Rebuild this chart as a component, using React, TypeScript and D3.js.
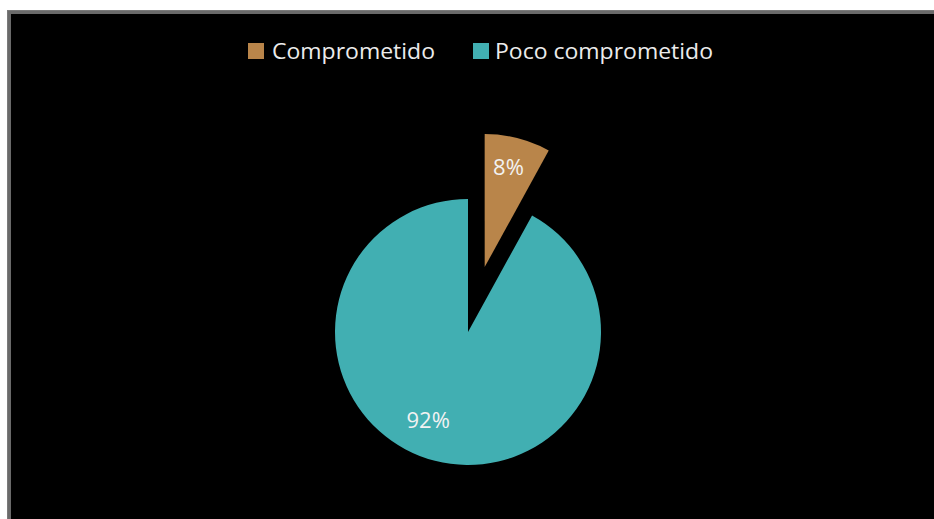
import React from "react";
import * as d3 from "d3";

const categories = ["Comprometido", "Poco comprometido"];
const values = [8, 92];
const labels = ["8%", "92%"];
const colors = ["#B9854A", "#41AFB2"];

const W = 934;
const H = 519;

export default function App() {
  const cx = 468;
  const cy = 332;
  const r = 133;
  const explode = 67;

  const pie = d3.pie<number>().sort(null).value((d) => d);
  const arcs = pie(values);
  const arc = d3.arc<d3.PieArcDatum<number>>().innerRadius(0).outerRadius(r);
  const labelArc = d3.arc<d3.PieArcDatum<number>>().innerRadius(r * 0.72).outerRadius(r * 0.72);
  const labelNudge = [[0, -8], [-16, -6]];

  const font = "'Open Sans', Lato, sans-serif";
  const legendItems = [
    { x: 248, tx: 272, len: 163 },
    { x: 473, tx: 495, len: 218 },
  ];

  return (
    <svg
      width={W}
      height={H}
      style={{ position: "absolute", left: 0, top: 0, display: "block" }}
    >
      <rect x={0} y={0} width={W} height={H} fill="#ffffff" />
      <rect x={7} y={10} width={W - 7} height={H - 10} fill="#7a7a7a" />
      <rect x={8} y={11} width={W - 8} height={H - 11} fill="#6a6a6a" />
      <rect x={11} y={14} width={W - 11} height={H - 14} fill="#000000" />

      {categories.map((c, i) => (
        <g key={c}>
          <rect x={legendItems[i].x} y={43} width={16} height={16} fill={colors[i]} />
          <text
            x={legendItems[i].tx}
            y={59}
            fill="#ececec"
            fontFamily={font}
            fontSize={22}
            textLength={legendItems[i].len}
            lengthAdjust="spacingAndGlyphs"
          >
            {c}
          </text>
        </g>
      ))}

      {arcs.map((a, i) => {
        const mid = (a.startAngle + a.endAngle) / 2;
        const off = i === 0 ? explode : 0;
        const dx = Math.sin(mid) * off;
        const dy = -Math.cos(mid) * off;
        const [lx, ly] = labelArc.centroid(a);
        return (
          <g key={i} transform={`translate(${cx + dx},${cy + dy})`}>
            <path d={arc(a) || ""} fill={colors[i]} />
            <text
              x={lx + labelNudge[i][0]}
              y={ly + labelNudge[i][1]}
              textAnchor="middle"
              dominantBaseline="central"
              fill="#f2f2f2"
              fontFamily={font}
              fontSize={22}
            >
              {labels[i]}
            </text>
          </g>
        );
      })}
    </svg>
  );
}
